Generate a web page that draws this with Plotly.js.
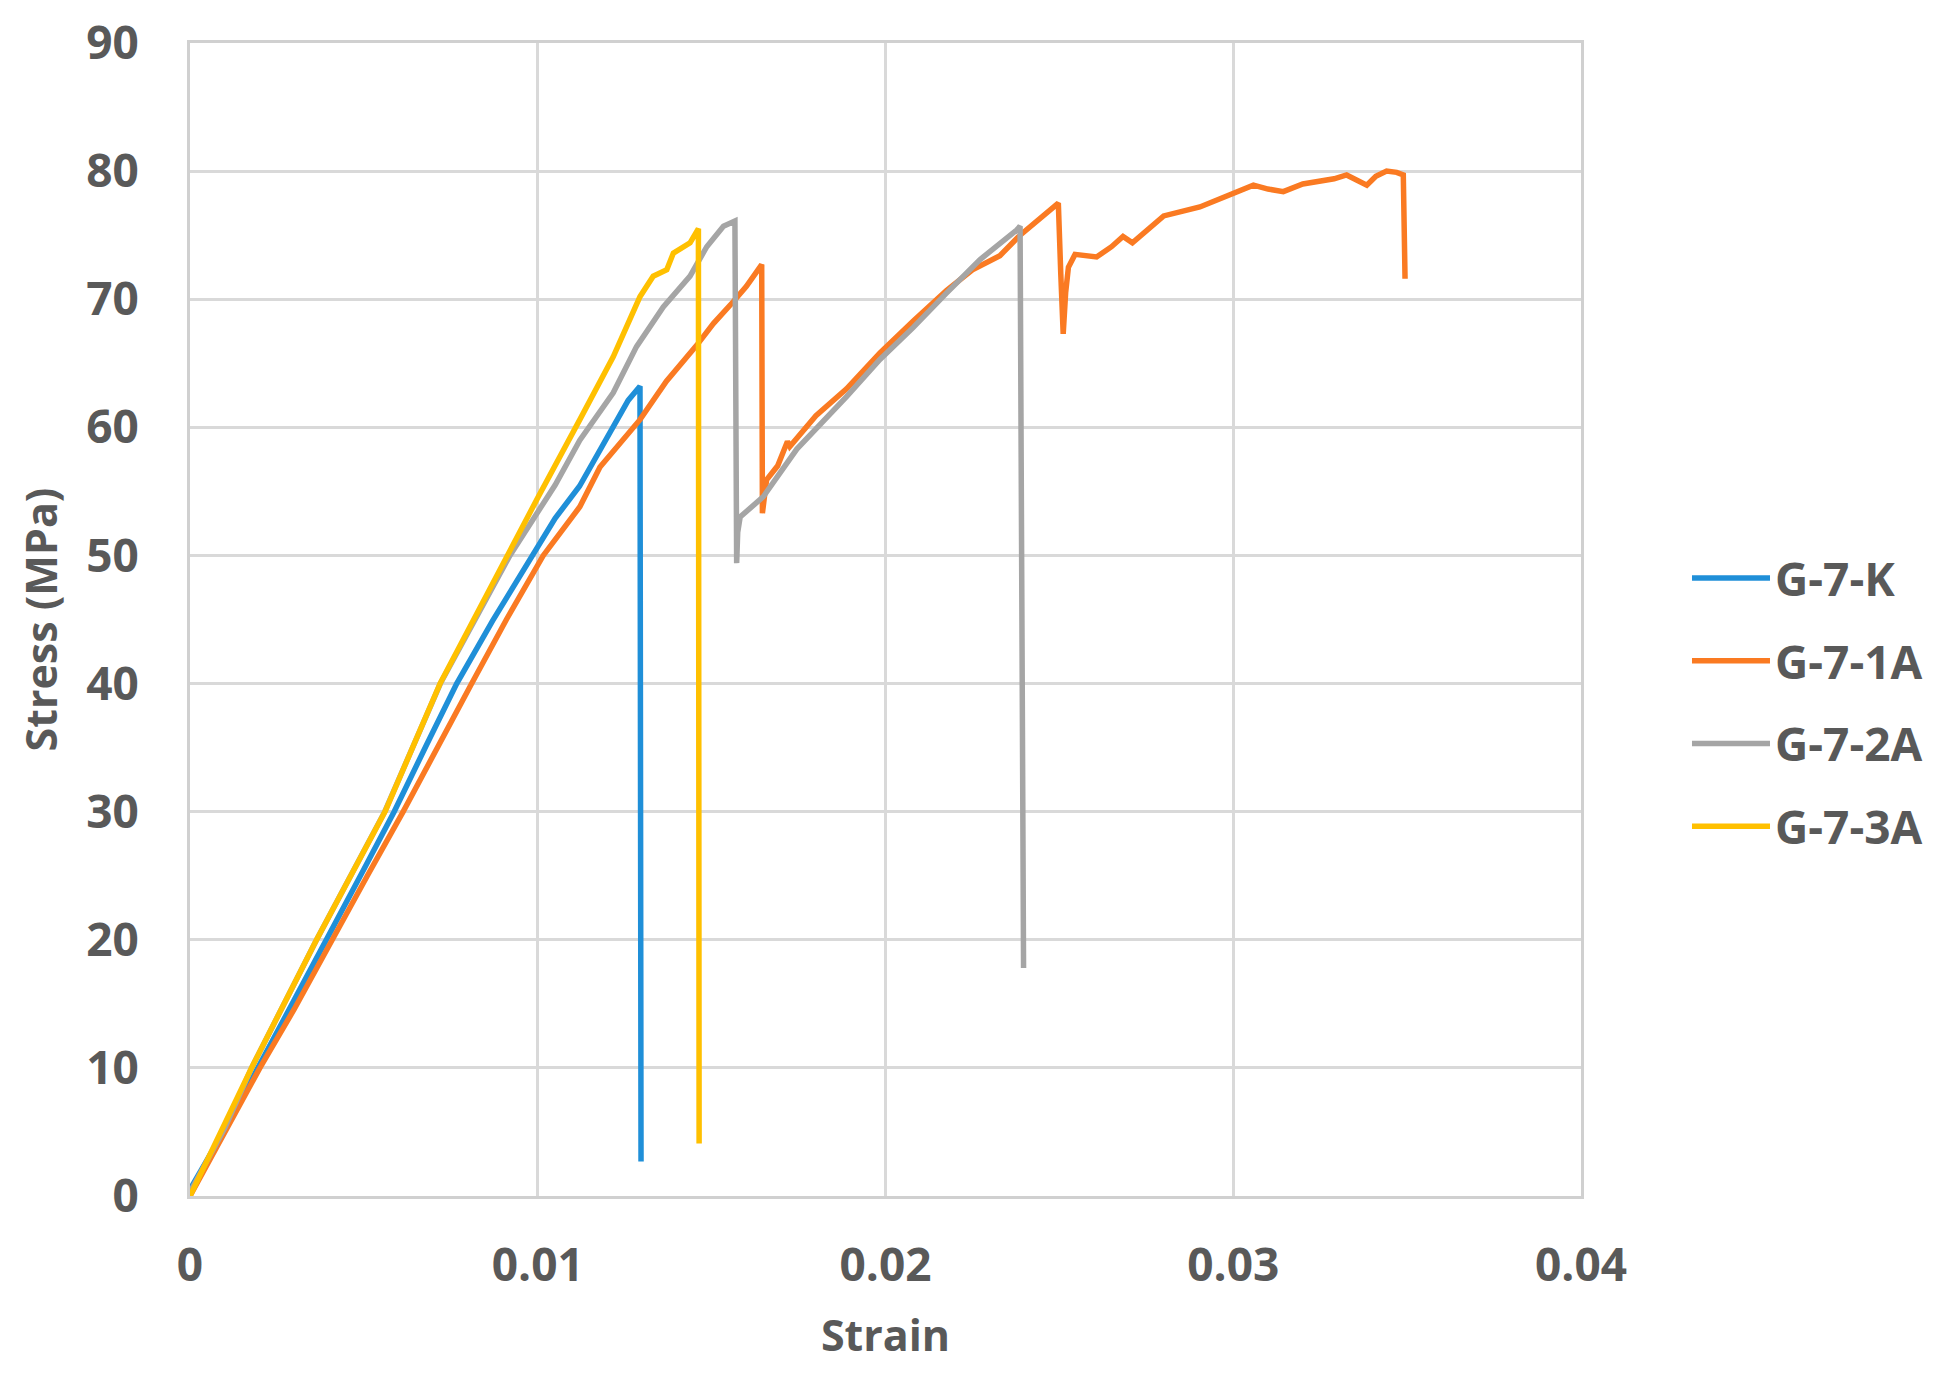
<!DOCTYPE html>
<html>
<head>
<meta charset="utf-8">
<script src="https://cdn.plot.ly/plotly-3.0.1.min.js"></script>
<style>html,body{margin:0;padding:0;background:#fff;}#chart{width:1959px;height:1376px;}</style>
</head>
<body>
<div id="chart"></div>
<script>
// Series names
const seriesNames = ["G-7-K", "G-7-1A", "G-7-2A", "G-7-3A"];

// G-7-K
const strainK = [0, 0.0005, 0.001, 0.0015, 0.002, 0.003, 0.004, 0.005, 0.00587, 0.0068, 0.00767, 0.0087, 0.00983, 0.0105, 0.0112, 0.0118, 0.0122, 0.0126, 0.01294, 0.01297];
const stressK = [0.5, 2.8, 5.2, 7.7, 10.2, 15.3, 20.4, 25.5, 30.0, 35.2, 40.0, 44.9, 50.0, 52.9, 55.4, 58.3, 60.3, 62.1, 63.2, 2.7];

// G-7-1A
const strain1A = [0, 0.001, 0.00201, 0.003, 0.00407, 0.0051, 0.00613, 0.0071, 0.0081, 0.0091, 0.01016, 0.01121, 0.01179, 0.01294, 0.0137, 0.01457, 0.01505, 0.01562, 0.0160, 0.01644, 0.01646, 0.01652, 0.01658, 0.0169, 0.01718, 0.01725, 0.018, 0.01888, 0.01984, 0.0208, 0.02176, 0.0225, 0.02329, 0.02387, 0.0244, 0.02497, 0.02504, 0.02511, 0.02518, 0.02526, 0.02545, 0.02607, 0.0265, 0.02683, 0.0271, 0.028, 0.02904, 0.03, 0.03058, 0.031, 0.03144, 0.032, 0.0324, 0.0329, 0.03326, 0.0336, 0.03384, 0.0341, 0.03441, 0.0347, 0.03489, 0.03494];
const stress1A = [0, 4.9, 10.0, 14.6, 20.0, 25.0, 30.0, 35.0, 40.0, 45.0, 50.0, 53.8, 56.9, 60.6, 63.6, 66.4, 68.1, 69.8, 71.0, 72.7, 53.3, 54.6, 55.9, 57.0, 58.9, 58.5, 60.9, 63.0, 65.8, 68.3, 70.7, 72.3, 73.4, 75.0, 76.2, 77.5, 72.0, 67.3, 70.5, 72.5, 73.5, 73.3, 74.1, 74.9, 74.4, 76.5, 77.2, 78.3, 78.9, 78.6, 78.4, 79.0, 79.2, 79.4, 79.7, 79.2, 78.9, 79.6, 80.0, 79.9, 79.7, 71.6];

// G-7-2A
const strain2A = [0, 0.001, 0.00177, 0.00364, 0.0056, 0.0072, 0.0092, 0.0105, 0.01121, 0.01217, 0.01284, 0.01361, 0.01438, 0.01457, 0.01486, 0.01534, 0.01567, 0.01572, 0.01575, 0.01582, 0.01649, 0.01745, 0.0182, 0.01888, 0.01984, 0.0208, 0.02176, 0.02272, 0.02377, 0.02387, 0.02397];
const stress2A = [0.3, 5.3, 10.0, 20.0, 30.0, 40.0, 50.0, 55.5, 59.0, 62.7, 66.3, 69.4, 71.8, 72.8, 74.1, 75.7, 76.1, 49.4, 51.8, 53.0, 54.6, 58.3, 60.4, 62.4, 65.3, 67.8, 70.5, 73.1, 75.4, 75.7, 17.8];

// G-7-3A
const strain3A = [0, 0.001, 0.00177, 0.00364, 0.00561, 0.00719, 0.00911, 0.01, 0.01121, 0.01217, 0.01294, 0.01332, 0.01371, 0.0139, 0.01438, 0.01462, 0.01464];
const stress3A = [0, 5.6, 10.0, 20.0, 30.0, 40.0, 50.0, 54.5, 60.6, 65.5, 70.2, 71.8, 72.3, 73.6, 74.4, 75.5, 4.1];

// Axis ticks
const xTicks = [0, 0.01, 0.02, 0.03, 0.04];
const xTickLabels = ["0", "0.01", "0.02", "0.03", "0.04"];
const yTicks = [0, 10, 20, 30, 40, 50, 60, 70, 80, 90];

const colors = ["#1F8FD8", "#FA7A22", "#A5A5A5", "#FFC000"];
const xs = [strainK, strain1A, strain2A, strain3A];
const ys = [stressK, stress1A, stress2A, stress3A];

const traces = seriesNames.map((n, i) => ({
  x: xs[i], y: ys[i], name: n, type: "scatter", mode: "lines",
  legendgroup: "g" + i,
  line: {color: colors[i], width: 5.5}
}));

const fontFam = "'Open Sans', sans-serif";
const txtColor = "#595959";

const layout = {
  width: 1959, height: 1376,
  margin: {l: 190, r: 378, t: 43, b: 180},
  paper_bgcolor: "#ffffff", plot_bgcolor: "#ffffff",
  font: {family: fontFam, color: txtColor, size: 46},
  showlegend: true,
  legend: {
    x: 1.0762, xanchor: "left", y: 0.428, yanchor: "middle",
    xref: "paper", yref: "paper",
    font: {family: fontFam, size: 46, color: txtColor, weight: "bold"},
    itemwidth: 78, tracegroupgap: 20,
    bgcolor: "rgba(0,0,0,0)"
  },
  xaxis: {
    range: [0, 0.04], tickvals: xTicks, ticktext: xTickLabels,
    showgrid: true, gridcolor: "#d9d9d9", gridwidth: 3,
    zeroline: false, showline: true, linecolor: "#d0d0d0", linewidth: 3, mirror: true,
    ticks: "", ticklabelstandoff: 27,
    tickfont: {family: fontFam, size: 46, color: txtColor, weight: "bold"},
    title: {text: "Strain", standoff: 28, font: {family: fontFam, size: 43, color: txtColor, weight: "bold"}},
    fixedrange: true
  },
  yaxis: {
    range: [0, 90], tickvals: yTicks,
    showgrid: true, gridcolor: "#d9d9d9", gridwidth: 3,
    zeroline: false, showline: true, linecolor: "#d0d0d0", linewidth: 3, mirror: true,
    ticks: "", ticklabelstandoff: 39,
    tickfont: {family: fontFam, size: 46, color: txtColor, weight: "bold"},
    title: {text: "Stress (MPa)", standoff: 16, font: {family: fontFam, size: 43, color: txtColor, weight: "bold"}},
    fixedrange: true
  }
};

Plotly.newPlot("chart", traces, layout, {displayModeBar: false, staticPlot: true});
</script>
</body>
</html>
